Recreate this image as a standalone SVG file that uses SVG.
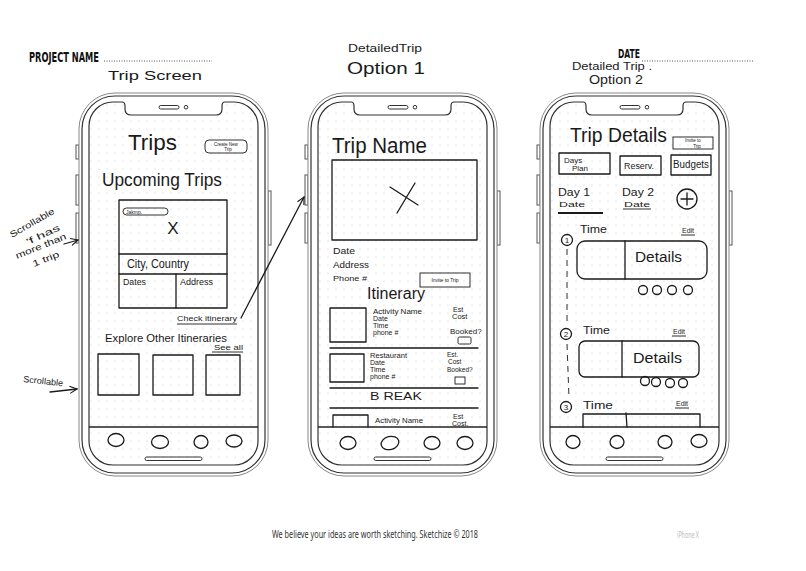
<svg xmlns="http://www.w3.org/2000/svg" width="806" height="571" viewBox="0 0 806 571">
<style>
.hw{font-family:"Liberation Sans","DejaVu Sans",sans-serif;fill:#1a1a1a}
.ink{fill:none;stroke:#1a1a1a;stroke-width:1.3;stroke-linecap:round;stroke-linejoin:round}
.thin{fill:none;stroke:#1a1a1a;stroke-width:0.9}
.hdr{font-family:"DejaVu Sans Condensed","Liberation Sans",sans-serif;font-weight:bold;fill:#111}
.dotline{stroke:#555;stroke-width:1;stroke-dasharray:1 1.5}
</style>
<defs>
<pattern id="grid" patternUnits="userSpaceOnUse" width="8" height="8">
<circle cx="4" cy="4" r="0.6" fill="#c4c4c4"/>
</pattern>
<marker id="arr" viewBox="0 0 10 10" refX="9" refY="5" markerWidth="9" markerHeight="9" orient="auto" markerUnits="userSpaceOnUse">
<path d="M1,1 L9,5 L1,9" fill="none" stroke="#1a1a1a" stroke-width="1.2"/>
</marker>
<g id="frame">
<rect x="-3" y="52" width="3" height="14" fill="#fff" stroke="#555" stroke-width="1"/>
<rect x="-3" y="82" width="3" height="30" fill="#fff" stroke="#555" stroke-width="1"/>
<rect x="-3" y="120" width="3" height="30" fill="#fff" stroke="#555" stroke-width="1"/>
<rect x="189" y="98" width="3" height="54" fill="#fff" stroke="#555" stroke-width="1"/>
<rect x="0" y="0" width="189" height="383" rx="36" fill="#fff" stroke="#888" stroke-width="1"/>
<rect x="3" y="3" width="183" height="377" rx="33" fill="none" stroke="#333" stroke-width="1.2"/>
<path d="M34,9 H43 q3,0 3,4 v3 q0,6 6,6 H137 q6,0 6,-6 v-3 q0,-4 3,-4 H155 a24,24 0 0 1 24,24 V348 a24,24 0 0 1 -24,24 H34 a24,24 0 0 1 -24,-24 V33 a24,24 0 0 1 24,-24 Z" fill="url(#grid)" stroke="#333" stroke-width="1.2"/>
<rect x="80" y="12.5" width="20" height="3.5" rx="1.75" fill="none" stroke="#333" stroke-width="1"/>
<circle cx="107" cy="14.2" r="1.8" fill="none" stroke="#333" stroke-width="1"/>
<line x1="10" y1="334" x2="179" y2="334" stroke="#222" stroke-width="1.3"/>
<rect x="66" y="364" width="57" height="3.5" rx="1.75" fill="none" stroke="#333" stroke-width="1"/>
</g>
</defs>
<rect width="806" height="571" fill="#fff"/>

<g id="header">
<text class="hdr" x="29" y="62" font-size="14" textLength="70" lengthAdjust="spacingAndGlyphs">PROJECT NAME</text>
<line class="dotline" x1="104" y1="61" x2="212" y2="61"/>
<text class="hdr" x="618" y="58" font-size="12" textLength="22" lengthAdjust="spacingAndGlyphs">DATE</text>
<line class="dotline" x1="642" y1="61" x2="754" y2="61"/>
</g>

<g id="annotations">
<text class="hw" x="108" y="80" font-size="13" textLength="94" lengthAdjust="spacingAndGlyphs">Trip Screen</text>
<text class="hw" x="348" y="52" font-size="10" textLength="74" lengthAdjust="spacingAndGlyphs">DetailedTrip</text>
<text class="hw" x="347" y="74" font-size="17" textLength="78" lengthAdjust="spacingAndGlyphs">Option 1</text>
<text class="hw" x="572" y="70" font-size="10" textLength="80" lengthAdjust="spacingAndGlyphs">Detailed Trip .</text>
<text class="hw" x="589" y="84" font-size="12" textLength="54" lengthAdjust="spacingAndGlyphs">Option 2</text>
<text class="hw" font-size="9" textLength="50" lengthAdjust="spacingAndGlyphs" transform="translate(12,238) rotate(-30)">Scrollable</text>
<text class="hw" font-size="9" textLength="36" lengthAdjust="spacingAndGlyphs" transform="translate(28,245) rotate(-25)">'f has</text>
<text class="hw" font-size="9" textLength="54" lengthAdjust="spacingAndGlyphs" transform="translate(17,259) rotate(-22)">more than</text>
<text class="hw" font-size="9" textLength="28" lengthAdjust="spacingAndGlyphs" transform="translate(34,267) rotate(-22)">1 trip</text>
<text class="hw" font-size="9" textLength="40" lengthAdjust="spacingAndGlyphs" transform="translate(23,382) rotate(6)">Scrollable</text>
</g>

<g id="phone1">
<use href="#frame" transform="translate(79,93)"/>
<text class="hw" x="128" y="150" font-size="22" textLength="49" lengthAdjust="spacingAndGlyphs">Trips</text>
<rect class="thin" x="205" y="140" width="42" height="13" rx="4"/>
<text class="hw" x="226" y="146" font-size="4.5" text-anchor="middle">Create New</text>
<text class="hw" x="228" y="151" font-size="4.5" text-anchor="middle">Trip</text>
<text class="hw" x="102" y="186" font-size="18" textLength="120" lengthAdjust="spacingAndGlyphs">Upcoming Trips</text>
<rect class="ink" x="119" y="200" width="108" height="108"/>
<line class="ink" x1="119" y1="254" x2="227" y2="254"/>
<line class="ink" x1="119" y1="274" x2="227" y2="274"/>
<line class="ink" x1="176" y1="274" x2="176" y2="308"/>
<rect class="thin" x="123" y="208" width="45" height="7" rx="3.5"/>
<text class="hw" x="126" y="213.5" font-size="5">Jakmp.</text>
<text class="hw" x="173" y="234" font-size="17" text-anchor="middle">X</text>
<text class="hw" x="127" y="268" font-size="12" textLength="62" lengthAdjust="spacingAndGlyphs">City, Country</text>
<text class="hw" x="123" y="285" font-size="9" textLength="23" lengthAdjust="spacingAndGlyphs">Dates</text>
<text class="hw" x="180" y="285" font-size="9" textLength="33" lengthAdjust="spacingAndGlyphs">Address</text>
<text class="hw" x="177" y="321" font-size="8" textLength="60" lengthAdjust="spacingAndGlyphs">Check itinerary</text>
<line class="thin" x1="177" y1="324" x2="237" y2="324"/>
<text class="hw" x="105" y="342" font-size="11" textLength="122" lengthAdjust="spacingAndGlyphs">Explore Other Itineraries</text>
<text class="hw" x="214" y="350" font-size="7.5" textLength="29" lengthAdjust="spacingAndGlyphs">See all</text>
<line class="thin" x1="212" y1="352" x2="243" y2="352"/>
<rect class="ink" x="98" y="354" width="41" height="41"/>
<rect class="ink" x="153" y="355" width="40" height="40"/>
<rect class="ink" x="206" y="355" width="34" height="40"/>
<ellipse class="ink" cx="116" cy="440" rx="8" ry="6.5"/>
<ellipse class="ink" cx="160" cy="442" rx="8.5" ry="6.5"/>
<ellipse class="ink" cx="201" cy="442" rx="7" ry="6.5"/>
<ellipse class="ink" cx="234" cy="441" rx="8" ry="6"/>
</g>

<g id="phone2">
<use href="#frame" transform="translate(308,93)"/>
<text class="hw" x="332" y="153" font-size="22" textLength="95" lengthAdjust="spacingAndGlyphs">Trip Name</text>
<rect class="ink" x="332" y="160" width="145" height="80"/>
<line class="ink" x1="397" y1="213" x2="415" y2="183"/>
<line class="ink" x1="390" y1="187" x2="418" y2="205"/>
<text class="hw" x="333" y="254" font-size="9" textLength="22" lengthAdjust="spacingAndGlyphs">Date</text>
<text class="hw" x="333" y="268" font-size="9" textLength="36" lengthAdjust="spacingAndGlyphs">Address</text>
<text class="hw" x="333" y="281" font-size="8" textLength="34" lengthAdjust="spacingAndGlyphs">Phone #</text>
<rect class="thin" x="420" y="273" width="50" height="14"/>
<text class="hw" x="445" y="282" font-size="5" text-anchor="middle">Invite to Trip</text>
<text class="hw" x="367" y="299" font-size="16" textLength="58" lengthAdjust="spacingAndGlyphs">Itinerary</text>
<rect class="ink" x="330" y="308" width="36" height="34"/>
<text class="hw" x="373" y="314" font-size="7.5" textLength="49" lengthAdjust="spacingAndGlyphs">Activity Name</text>
<text class="hw" x="373" y="321" font-size="7">Date</text>
<text class="hw" x="373" y="328" font-size="7">Time</text>
<text class="hw" x="373" y="335" font-size="7">phone #</text>
<text class="hw" x="453" y="312" font-size="7">Est</text>
<text class="hw" x="452" y="319" font-size="7.5">Cost</text>
<text class="hw" x="450" y="334" font-size="8">Booked?</text>
<rect class="thin" x="458" y="337" width="13" height="7" rx="1.5"/>
<line class="ink" x1="330" y1="348" x2="478" y2="348"/>
<rect class="ink" x="330" y="354" width="34" height="28"/>
<text class="hw" x="370" y="358" font-size="7.5" textLength="37" lengthAdjust="spacingAndGlyphs">Restaurant</text>
<text class="hw" x="370" y="365" font-size="7">Date</text>
<text class="hw" x="370" y="372" font-size="7">Time</text>
<text class="hw" x="370" y="379" font-size="7">phone #</text>
<text class="hw" x="447" y="357" font-size="6.5">Est.</text>
<text class="hw" x="448" y="364" font-size="6.5">Cost</text>
<text class="hw" x="447" y="372" font-size="6.5">Booked?</text>
<rect class="thin" x="455" y="377" width="10" height="7"/>
<line class="ink" x1="330" y1="388" x2="478" y2="388"/>
<text class="hw" x="370" y="400" font-size="11" textLength="52" lengthAdjust="spacingAndGlyphs">B REAK</text>
<line class="ink" x1="330" y1="408" x2="478" y2="408"/>
<path class="ink" d="M333,427 V415 H368 V427"/>
<text class="hw" x="375" y="423" font-size="7.5" textLength="48" lengthAdjust="spacingAndGlyphs">Activity Name</text>
<text class="hw" x="453" y="419" font-size="7">Est</text>
<text class="hw" x="452" y="426" font-size="7">Cost.</text>
<ellipse class="ink" cx="348" cy="443" rx="8" ry="6.5"/>
<ellipse class="ink" cx="390" cy="443" rx="9" ry="6.5" transform="rotate(-15 390 443)"/>
<ellipse class="ink" cx="432" cy="443" rx="8" ry="6.5"/>
<ellipse class="ink" cx="465" cy="443" rx="8" ry="6.5"/>
</g>

<g id="phone3">
<use href="#frame" transform="translate(540,93)"/>
<text class="hw" x="570" y="142" font-size="20" textLength="97" lengthAdjust="spacingAndGlyphs">Trip Details</text>
<rect class="thin" x="673" y="137" width="40" height="12"/>
<text class="hw" x="693" y="142" font-size="4.5" text-anchor="middle">Invite to</text>
<text class="hw" x="697" y="147.5" font-size="4.5" text-anchor="middle">Trip</text>
<rect class="ink" x="559" y="153" width="51" height="21"/>
<text class="hw" x="564" y="163" font-size="8">Days</text>
<text class="hw" x="572" y="171" font-size="8">Plan</text>
<rect class="ink" x="620" y="156" width="41" height="19"/>
<text class="hw" x="624" y="169" font-size="8.5" textLength="30" lengthAdjust="spacingAndGlyphs">Reserv.</text>
<rect class="ink" x="671" y="155" width="40" height="20"/>
<text class="hw" x="673" y="168" font-size="10" textLength="36" lengthAdjust="spacingAndGlyphs">Budgets</text>
<text class="hw" x="558" y="196" font-size="10" textLength="32" lengthAdjust="spacingAndGlyphs">Day 1</text>
<text class="hw" x="559" y="207" font-size="8" textLength="26" lengthAdjust="spacingAndGlyphs">Date</text>
<line x1="558" y1="213" x2="603" y2="213" stroke="#1a1a1a" stroke-width="2"/>
<text class="hw" x="622" y="196" font-size="10" textLength="32" lengthAdjust="spacingAndGlyphs">Day 2</text>
<text class="hw" x="624" y="207" font-size="8" textLength="26" lengthAdjust="spacingAndGlyphs">Date</text>
<line class="thin" x1="623" y1="209" x2="651" y2="209"/>
<circle class="ink" cx="687" cy="199" r="10"/>
<line class="ink" x1="681" y1="199" x2="693" y2="199"/>
<line class="ink" x1="687" y1="193" x2="687" y2="205"/>

<circle class="ink" cx="567" cy="240" r="5.5"/>
<text class="hw" x="567" y="243" font-size="8" text-anchor="middle">1</text>
<text class="hw" x="580" y="233" font-size="10" textLength="27" lengthAdjust="spacingAndGlyphs">Time</text>
<text class="hw" x="682" y="233" font-size="7">Edit</text>
<line class="thin" x1="681" y1="235" x2="695" y2="235"/>
<line class="thin" x1="567" y1="249" x2="567" y2="322" stroke-dasharray="6 5"/>
<rect class="ink" x="577" y="241" width="130" height="38" rx="8"/>
<line class="ink" x1="625" y1="241" x2="625" y2="279"/>
<text class="hw" x="635" y="262" font-size="14" textLength="47" lengthAdjust="spacingAndGlyphs">Details</text>
<circle class="ink" cx="643" cy="290" r="4.5"/>
<circle class="ink" cx="657" cy="290" r="4.5"/>
<circle class="ink" cx="672" cy="290" r="4.5"/>
<circle class="ink" cx="688" cy="290" r="4.5"/>

<circle class="ink" cx="566" cy="334" r="5.5"/>
<text class="hw" x="566" y="337" font-size="8" text-anchor="middle">2</text>
<text class="hw" x="583" y="334" font-size="10" textLength="27" lengthAdjust="spacingAndGlyphs">Time</text>
<text class="hw" x="673" y="334" font-size="7">Edit</text>
<line class="thin" x1="672" y1="336" x2="686" y2="336"/>
<line class="thin" x1="567" y1="344" x2="569" y2="398" stroke-dasharray="6 5"/>
<rect class="ink" x="579" y="341" width="120" height="36" rx="6"/>
<line class="ink" x1="622" y1="341" x2="622" y2="377"/>
<text class="hw" x="633" y="363" font-size="14" textLength="49" lengthAdjust="spacingAndGlyphs">Details</text>
<circle class="ink" cx="645" cy="381" r="4.5"/>
<circle class="ink" cx="656" cy="382" r="4.5"/>
<circle class="ink" cx="670" cy="383" r="4.5"/>
<circle class="ink" cx="683" cy="383" r="4.5"/>

<circle class="ink" cx="566" cy="407" r="5.5"/>
<text class="hw" x="566" y="410" font-size="8" text-anchor="middle">3</text>
<text class="hw" x="583" y="409" font-size="10" textLength="30" lengthAdjust="spacingAndGlyphs">Time</text>
<text class="hw" x="676" y="406" font-size="7">Edit</text>
<line class="thin" x1="675" y1="408" x2="689" y2="408"/>
<path class="ink" d="M583,427 V414 H700 V427"/>
<line class="ink" x1="626" y1="413" x2="627" y2="427"/>
<ellipse class="ink" cx="573" cy="442" rx="7" ry="6.5"/>
<ellipse class="ink" cx="617" cy="442" rx="7" ry="6.5"/>
<ellipse class="ink" cx="665" cy="442" rx="7" ry="6.5"/>
<ellipse class="ink" cx="699" cy="441" rx="8" ry="6.5"/>
</g>

<g id="connectors">
<line class="ink" x1="241" y1="318" x2="304" y2="197" marker-end="url(#arr)"/>
<line class="ink" x1="64" y1="244" x2="78" y2="240" marker-end="url(#arr)"/>
<line class="ink" x1="50" y1="392" x2="77" y2="389" marker-end="url(#arr)"/>
</g>

<g id="footer">
<text x="272" y="538" font-family="'Noto Sans','Liberation Sans',sans-serif" font-size="10" fill="#333" textLength="206" lengthAdjust="spacingAndGlyphs">We believe your ideas are worth sketching. Sketchize © 2018</text>
<text x="677" y="538" font-family="'Noto Sans','Liberation Sans',sans-serif" font-size="9" fill="#bbb" textLength="22" lengthAdjust="spacingAndGlyphs">iPhone X</text>
</g>
</svg>
